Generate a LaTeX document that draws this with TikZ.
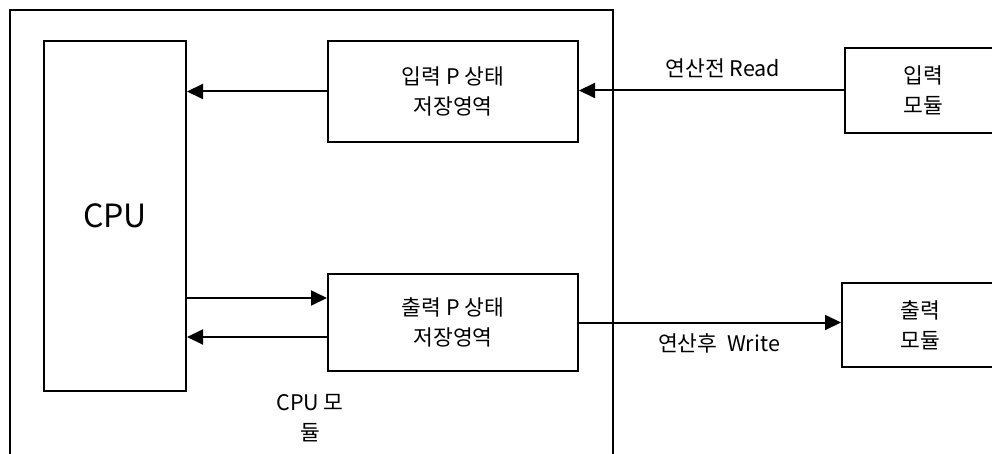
\documentclass[tikz,border=0pt]{standalone}
\usepackage{fontspec}
\setmainfont{Noto Sans CJK KR}
\usetikzlibrary{arrows.meta,positioning}

\tikzset{
  blk/.style={draw,line width=2pt,align=center,inner sep=0pt},
  arr/.style={line width=2pt,-{Triangle[length=16pt,width=15pt]}},
  lbl/.style={align=center,inner sep=0pt},
}

\begin{document}
\begin{tikzpicture}[x=1pt,y=-1pt,font=\fontsize{21.5}{30}\selectfont]
		\useasboundingbox (0,0) rectangle (992,454);
		\clip (0,0) rectangle (992,454);
		% CPU 모듈 테두리
		\draw[line width=2pt] (10,470) -- (10,10) -- (613,10) -- (613,470);
		% 블록
		\node[blk,minimum width=142pt,minimum height=349pt] (cpu) at (115,216) {};
		\node[lbl,font=\fontsize{32}{36}\selectfont] (cpulbl) at (115,216) {CPU};
		\node[blk,minimum width=250pt,minimum height=101pt] (inbuf) at (453,91.5) {입력 P 상태\\저장영역};
		\node[blk,minimum width=250pt,minimum height=97pt] (outbuf) at (453,322.5) {출력 P 상태\\저장영역};
		\node[blk,minimum width=156pt,minimum height=85pt] (inmod) at (923,90.5) {입력\\모듈};
		\node[blk,minimum width=156pt,minimum height=84pt] (outmod) at (920,325) {출력\\모듈};
		% 화살표
		\coordinate (w1) at ([yshift=24.5pt]outbuf.west);
		\coordinate (w2) at ([yshift=-14.5pt]outbuf.west);
		\draw[arr] (inbuf.west) -- (cpu.east |- inbuf.west);
		\draw[arr] (cpu.east |- w1) -- (w1);
		\draw[arr] (w2) -- (cpu.east |- w2);
		\draw[arr] (inmod.west) -- (inbuf.east |- inmod.west);
		\draw[arr] (outbuf.east) -- (outmod.west |- outbuf.east);
		% 라벨
		\node[lbl] (rd) at (723,68) {연산전 Read};
		\node[lbl] (wr) at (719,343) {연산후\ \ Write};
		\node[lbl] (mod) at (310,418) {CPU 모\\듈};
	\end{tikzpicture}
\end{document}
